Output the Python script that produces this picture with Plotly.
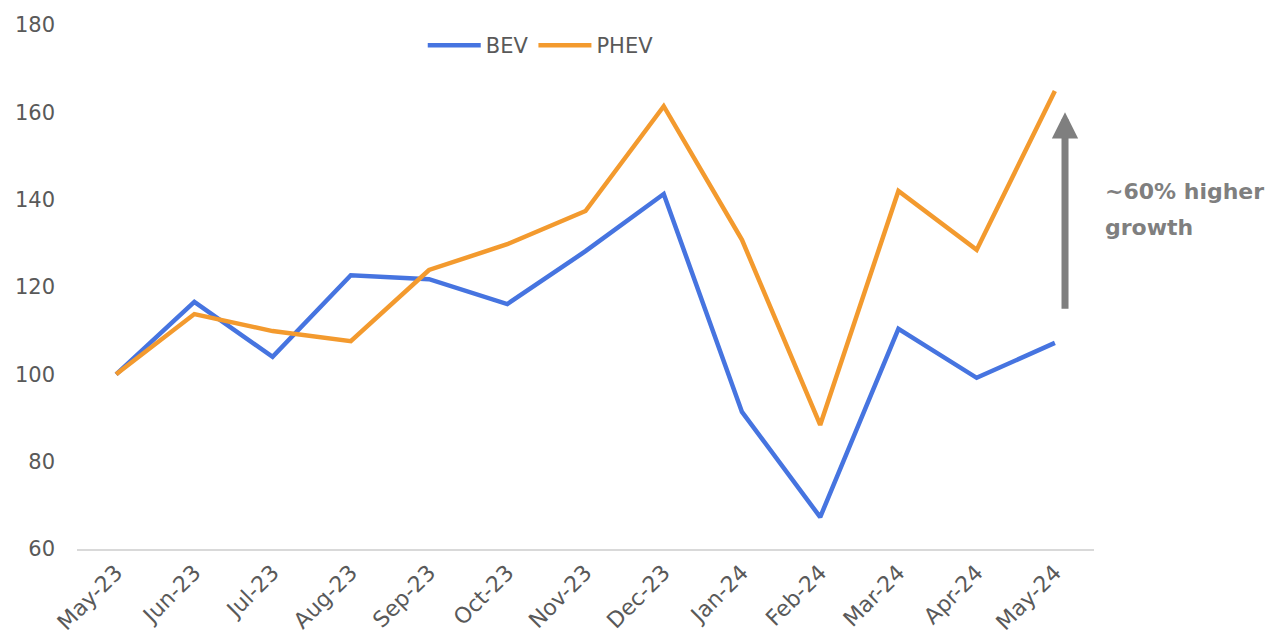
import plotly.graph_objects as go

# Monthly sales index (May-23 = 100)
months = ['May-23', 'Jun-23', 'Jul-23', 'Aug-23', 'Sep-23', 'Oct-23', 'Nov-23',
          'Dec-23', 'Jan-24', 'Feb-24', 'Mar-24', 'Apr-24', 'May-24']
bev = [100, 116.6, 104.0, 122.7, 121.8, 116.1, 128.2, 141.3, 91.4, 67.3, 110.4, 99.2, 107.2]
phev = [100, 113.8, 109.9, 107.6, 123.9, 129.8, 137.4, 161.4, 130.8, 88.4, 142.0, 128.5, 164.9]
note_lines = ['~60% higher', 'growth']

FONT = "DejaVu Sans"
GREY = "#595959"

fig = go.Figure()
fig.add_trace(go.Scatter(x=months, y=bev, name='BEV', mode='lines',
                         line=dict(color='#4674E0', width=4.5)))
fig.add_trace(go.Scatter(x=months, y=phev, name='PHEV', mode='lines',
                         line=dict(color='#F39A2E', width=4.5)))

# arrow + label
fig.add_annotation(xref='paper', yref='y', x=0.9715, y=160,
                   ax=0, ay=198, axref='pixel', ayref='pixel',
                   showarrow=True, arrowhead=2, arrowsize=0.75, arrowwidth=7,
                   arrowcolor='#7F7F7F', text='')
for i, line in enumerate(note_lines):
    fig.add_annotation(xref='paper', yref='y', x=1.009, y=141.8 - 8.1 * i,
                       xanchor='left', yanchor='middle', align='left',
                       showarrow=False, text='<b>' + line + '</b>',
                       font=dict(family=FONT, size=22, color='#7F7F7F'))

# page body has an 8px margin, so margins are shifted to compensate
fig.update_layout(
    width=1276, height=640,
    margin=dict(l=69, r=190, t=17, b=99),
    paper_bgcolor='white', plot_bgcolor='white',
    font=dict(family=FONT, size=20, color=GREY),
    showlegend=True,
    legend=dict(orientation='h', x=0.456, y=1.0, xanchor='center', yanchor='top',
                font=dict(size=21, color=GREY), itemwidth=53, bgcolor='rgba(0,0,0,0)'),
    xaxis=dict(type='category', range=[-0.5, 12.5], showgrid=False, automargin=False,
               showline=True, linecolor='#D9D9D9', linewidth=2,
               tickangle=-45, tickfont=dict(size=22, color=GREY), ticks=''),
    yaxis=dict(range=[60, 180], dtick=20, showgrid=False, zeroline=False, automargin=False,
               showline=False, tickfont=dict(size=21, color=GREY), ticks='',
               ticklabelstandoff=21),
)

fig.write_html("out.html")
